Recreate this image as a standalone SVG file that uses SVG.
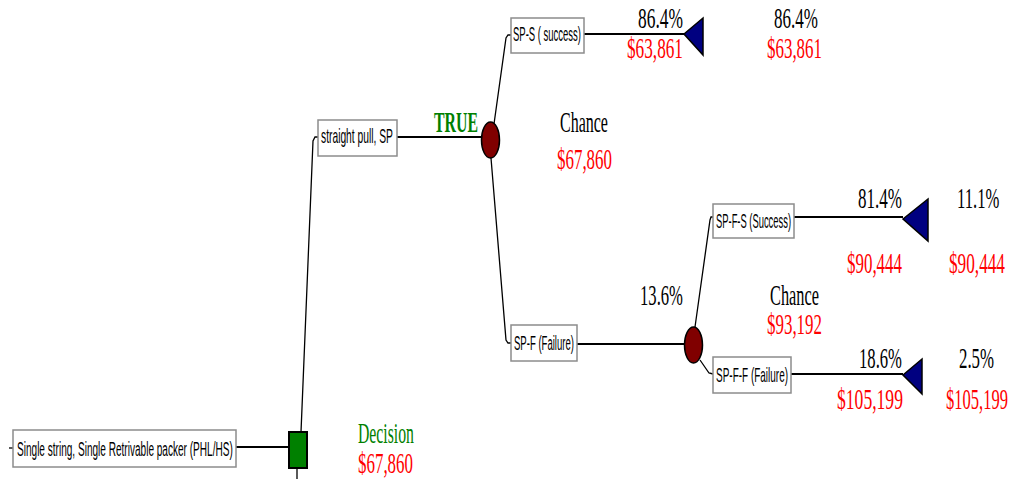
<svg xmlns="http://www.w3.org/2000/svg" width="1018" height="479" viewBox="0 0 1018 479">
  <style>
    .box { fill: #ffffff; stroke: #8c8c8c; stroke-width: 1.5; }
    .lbl { font-family: "Liberation Sans", Arial, sans-serif; font-size: 20px; fill: #000000; }
    .big { font-family: "Liberation Serif", "Times New Roman", serif; font-size: 29px; }
    .blk { fill: #000000; }
    .red { fill: #ff0000; }
    .grn { fill: #008000; }
    .decision { fill: #008000; stroke: #000000; stroke-width: 2; }
    .chance { fill: #800000; stroke: #000000; stroke-width: 1.5; }
    .end { fill: #000080; stroke: #000000; stroke-width: 1.5; }
    .wire { fill: none; stroke: #000000; stroke-width: 1.3; }
    .wire-h { fill: none; stroke: #000000; stroke-width: 2; }
  </style>

  <!-- connectors -->
  <g id="connectors">
    <line class="wire" x1="9" y1="448" x2="13" y2="448"/>
    <line class="wire-h" x1="236" y1="447" x2="289" y2="447"/>
    <polyline class="wire" points="301,432 313,141 315,137 318,137"/>
    <line class="wire" x1="297" y1="468" x2="297" y2="479"/>
    <line class="wire-h" x1="397" y1="137" x2="482" y2="137"/>
    <polyline class="wire" points="494,124 506,38 508,35 511,35"/>
    <line class="wire-h" x1="584" y1="34" x2="684" y2="34"/>
    <polyline class="wire" points="491,158 506,340 508,343 511,343"/>
    <line class="wire-h" x1="577" y1="344" x2="685" y2="344"/>
    <polyline class="wire" points="695,327 710,220 711,217 713,217"/>
    <line class="wire-h" x1="794" y1="217" x2="903" y2="217"/>
    <polyline class="wire" points="700,360 709,373 713,374"/>
    <line class="wire-h" x1="791" y1="374" x2="903" y2="374"/>
  </g>

  <!-- root decision -->
  <g id="root">
    <rect class="box" x="13" y="430" width="223" height="37"/>
    <text class="lbl" transform="translate(17,456) scale(0.503,1)">Single string, Single Retrivable packer (PHL/HS)</text>
  </g>
  <g id="decision">
    <rect class="decision" x="289" y="432" width="18" height="36"/>
    <text class="big grn" transform="translate(358,443) scale(0.543,1)">Decision</text>
    <text class="big red" transform="translate(358,473) scale(0.584,1)">$67,860</text>
  </g>

  <!-- branch: straight pull -->
  <g id="straight-pull">
    <rect class="box" x="318" y="120" width="79" height="36"/>
    <text class="lbl" transform="translate(321,143) scale(0.514,1)">straight pull, SP</text>
    <text class="big grn" font-weight="bold" transform="translate(434,132) scale(0.546,1)">TRUE</text>
  </g>
  <g id="chance-1">
    <ellipse class="chance" cx="490.5" cy="140" rx="9" ry="18"/>
    <text class="big blk" transform="translate(560,132) scale(0.552,1)">Chance</text>
    <text class="big red" transform="translate(557,169) scale(0.584,1)">$67,860</text>
  </g>

  <!-- SP success -->
  <g id="sp-s">
    <rect class="box" x="511" y="18" width="73" height="35"/>
    <text class="lbl" transform="translate(513,41) scale(0.474,1)">SP-S ( success)</text>
    <text class="big blk" transform="translate(638,28) scale(0.6,1)">86.4%</text>
    <text class="big red" transform="translate(627,58) scale(0.594,1)">$63,861</text>
  </g>
  <g id="end-sp-s">
    <polygon class="end" points="684,34 703,18 703,55"/>
    <text class="big blk" transform="translate(774,28) scale(0.587,1)">86.4%</text>
    <text class="big red" transform="translate(767,58) scale(0.584,1)">$63,861</text>
  </g>

  <!-- SP failure -->
  <g id="sp-f">
    <rect class="box" x="511" y="325" width="66" height="36"/>
    <text class="lbl" transform="translate(514,350) scale(0.478,1)">SP-F (Failure)</text>
    <text class="big blk" transform="translate(640,305) scale(0.574,1)">13.6%</text>
  </g>
  <g id="chance-2">
    <ellipse class="chance" cx="693.5" cy="345" rx="9" ry="18"/>
    <text class="big blk" transform="translate(770,305) scale(0.563,1)">Chance</text>
    <text class="big red" transform="translate(767,334) scale(0.584,1)">$93,192</text>
  </g>

  <!-- SP-F success -->
  <g id="sp-f-s">
    <rect class="box" x="713" y="204" width="81" height="34"/>
    <text class="lbl" transform="translate(716,228) scale(0.469,1)">SP-F-S (Success)</text>
    <text class="big blk" transform="translate(858,208) scale(0.587,1)">81.4%</text>
    <text class="big red" transform="translate(847,273) scale(0.584,1)">$90,444</text>
  </g>
  <g id="end-sp-f-s">
    <polygon class="end" points="903,219 928,199 928,241"/>
    <text class="big blk" transform="translate(957,208) scale(0.574,1)">11.1%</text>
    <text class="big red" transform="translate(949,273) scale(0.594,1)">$90,444</text>
  </g>

  <!-- SP-F failure -->
  <g id="sp-f-f">
    <rect class="box" x="713" y="357" width="78" height="36"/>
    <text class="lbl" transform="translate(716,382) scale(0.499,1)">SP-F-F (Failure)</text>
    <text class="big blk" transform="translate(859,368) scale(0.574,1)">18.6%</text>
    <text class="big red" transform="translate(837,409) scale(0.607,1)">$105,199</text>
  </g>
  <g id="end-sp-f-f">
    <polygon class="end" points="903,375 922,359 922,394"/>
    <text class="big blk" transform="translate(959,368) scale(0.58,1)">2.5%</text>
    <text class="big red" transform="translate(946,409) scale(0.57,1)">$105,199</text>
  </g>
</svg>
